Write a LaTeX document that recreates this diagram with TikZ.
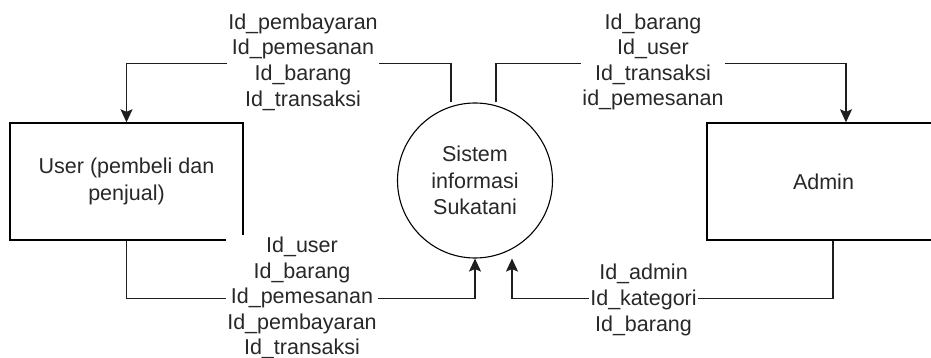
\documentclass[tikz,border=0pt]{standalone}
\usepackage{fontspec}
\setmainfont{Liberation Sans}
\usetikzlibrary{arrows.meta}
\definecolor{ink}{RGB}{40,40,40}
\definecolor{wire}{RGB}{30,30,30}
\begin{document}
\begin{tikzpicture}[x=1pt,y=-1pt,
  txt/.style={font=\fontsize{21.5}{26.5}\selectfont, text=ink, align=center},
  entity/.style={txt, draw=black, line width=1.4pt, minimum width=233pt, minimum height=117pt, inner sep=0pt},
  process/.style={txt, draw=black, line width=1.1pt, circle, minimum size=155pt, inner sep=0pt},
  flow/.style={draw=wire, line width=1.4pt, -{Stealth[length=13pt,width=12pt,inset=2.5pt]}},
  lbl/.style={txt, font=\fontsize{21.5}{25.6}\selectfont, fill=white, inner sep=1.5pt}]
  \useasboundingbox (0,0) rectangle (931,358);
  \fill[white] (0,0) rectangle (931,358);

  % external entities and the process
  \node[entity] (user) at (126.5,181.5) {User (pembeli dan\\penjual)};
  \node[entity] (admin) at (823.5,181.5) {Admin};
  \node[process] (sis) at (475,180.5) {Sistem\\informasi\\Sukatani};

  % data flows
  \draw[flow] ([xshift=-24pt]sis.north) -- ++(0,-39) -| (user.north);
  \draw[flow] ([xshift=21pt]sis.north) -- ++(0,-39) -| ([xshift=22.5pt]admin.north);
  \draw[flow] (user.south) -- ++(0,58) -| (sis.south);
  \draw[flow] ([xshift=9.5pt]admin.south) -- ++(0,58) -| ([xshift=37pt]sis.south);

  % flow labels
  \node[lbl] (l1) at (303,62) {Id\_pembayaran\\Id\_pemesanan\\Id\_barang\\Id\_transaksi};
  \node[lbl] (l2) at (653,62) {Id\_barang\\Id\_user\\Id\_transaksi\\id\_pemesanan};
  \node[lbl] (l3) at (302,298) {Id\_user\\Id\_barang\\Id\_pemesanan\\Id\_pembayaran\\Id\_transaksi};
  \node[lbl] (l4) at (643.5,300) {Id\_admin\\Id\_kategori\\Id\_barang};
\end{tikzpicture}
\end{document}
